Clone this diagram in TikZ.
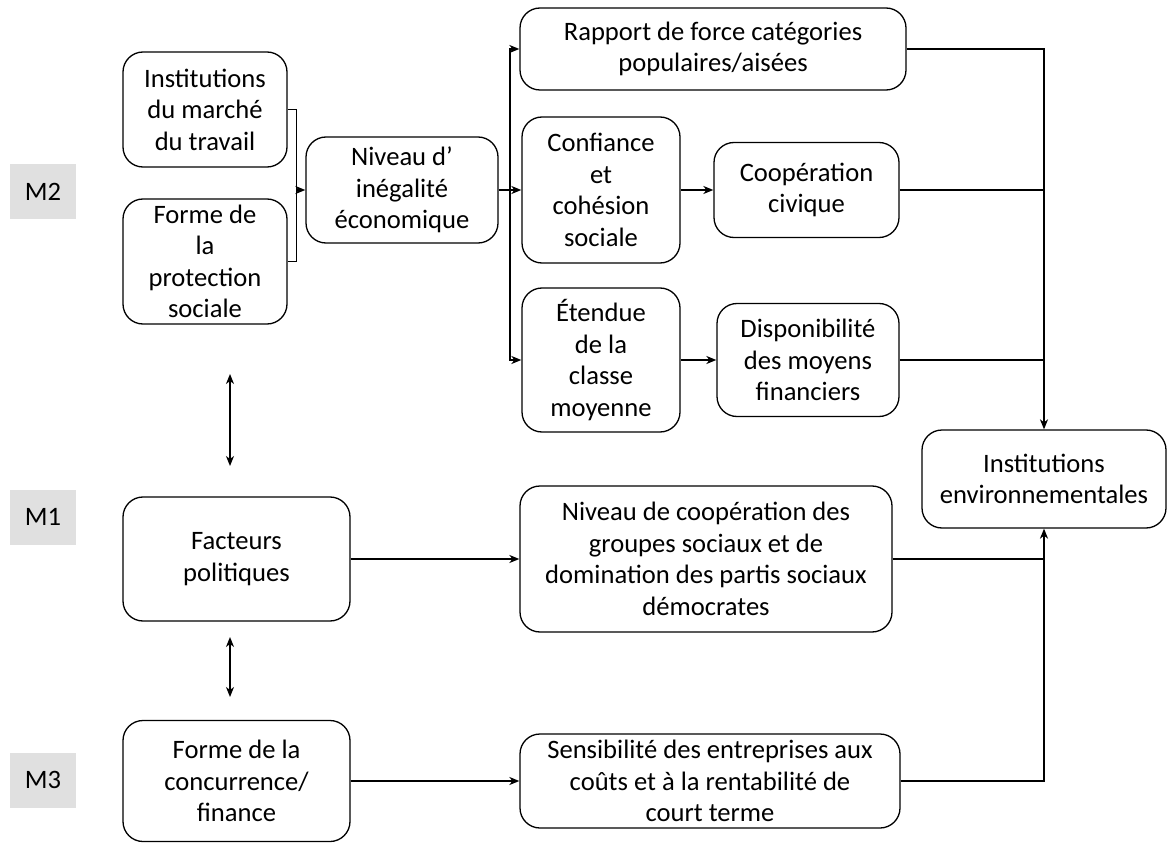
\documentclass[tikz,border=0pt]{standalone}
\usepackage{fontspec}
\setmainfont{Carlito}
\usetikzlibrary{arrows.meta}
\begin{document}
\begin{tikzpicture}[x=1pt,y=-1pt,
  box/.style={draw, line width=1.3pt, rounded corners=20pt, align=center, inner sep=0pt, font=\fontsize{26.6}{31.5}\selectfont},
  mlab/.style={fill=black!12, minimum width=66pt, minimum height=55pt, inner sep=0pt, font=\fontsize{26.6}{30}\selectfont},
  conn/.style={line width=1.3pt},
  arr/.style={conn, -{Stealth[length=10pt,width=8pt,inset=3pt]}},
  darr/.style={conn, {Stealth[length=10pt,width=8pt,inset=3pt]}-{Stealth[length=10pt,width=8pt,inset=3pt]}}]
\useasboundingbox (0,0) rectangle (1168,845);

\node[mlab] (m2) at (43,192) {M2};
\node[mlab] (m1) at (43,517) {M1};
\node[mlab] (m3) at (43,780) {M3};

\node[box, minimum width=164pt, minimum height=115pt] (inst) at (205,109.5) {Institutions\\du marché\\du travail};
\node[box, minimum width=164pt, minimum height=125pt] (forme) at (205,261.5) {Forme de\\la\\protection\\sociale};
\node[box, minimum width=192pt, minimum height=106pt] (niveau) at (402,190) {Niveau d’\\inégalité\\économique};
\node[box, minimum width=386pt, minimum height=82pt] (rapport) at (713,49) {Rapport de force catégories\\populaires/aisées};
\node[box, minimum width=158pt, minimum height=146pt] (conf) at (601,190) {Confiance\\et\\cohésion\\sociale};
\node[box, minimum width=185pt, minimum height=95pt] (coop) at (806.5,190) {Coopération\\civique};
\node[box, minimum width=158pt, minimum height=144pt] (etendue) at (601,360) {Étendue\\de la\\classe\\moyenne};
\node[box, minimum width=182pt, minimum height=113pt] (dispo) at (808,360) {Disponibilité\\des moyens\\financiers};
\node[box, minimum width=244pt, minimum height=98pt] (env) at (1044,479) {Institutions\\environnementales};
\node[box, minimum width=227pt, minimum height=124pt] (fact) at (236.5,559) {Facteurs\\politiques};
\node[box, minimum width=372pt, minimum height=146pt] (ncoop) at (706,559) {Niveau de coopération des\\groupes sociaux et de\\domination des partis sociaux\\démocrates};
\node[box, minimum width=227pt, minimum height=121pt] (conc) at (236.5,781) {Forme de la\\concurrence/\\finance};
\node[box, minimum width=380pt, minimum height=94pt] (sens) at (710,781) {Sensibilité des entreprises aux\\coûts et à la rentabilité de\\court terme};

% bracket
\coordinate (bm) at (296,190);
\draw[conn] (inst.east) -- ++(9,0) |- (forme.east);
\draw[arr] (bm) -- (niveau.west);

% branch
\coordinate (br) at (510,190);
\draw[conn] (niveau.east) -- (br);
\draw[arr] (br) |- (rapport.west);
\draw[arr] (br) -- (conf.west);
\draw[arr] (br) |- (etendue.west);

\draw[arr] (conf.east) -- (coop.west);
\draw[arr] (etendue.east) -- (dispo.west |- etendue.east);

% to env
\draw[arr] (rapport.east) -| (env.north);
\draw[conn] (coop.east) -- (coop.east -| env.north);
\draw[conn] (dispo.east) -- (dispo.east -| env.north);
\draw[conn] (ncoop.east) -- (ncoop.east -| env.south);
\draw[arr] (sens.east) -| (env.south);

\draw[arr] (fact.east) -- (ncoop.west);
\draw[arr] (conc.east) -- (sens.west);

% double arrows
\coordinate (d1a) at (230,374);
\coordinate (d1b) at (230,466);
\coordinate (d2a) at (230,637);
\coordinate (d2b) at (230,697);
\draw[darr] (d1a) -- (d1b);
\draw[darr] (d2a) -- (d2b);
\end{tikzpicture}
\end{document}
